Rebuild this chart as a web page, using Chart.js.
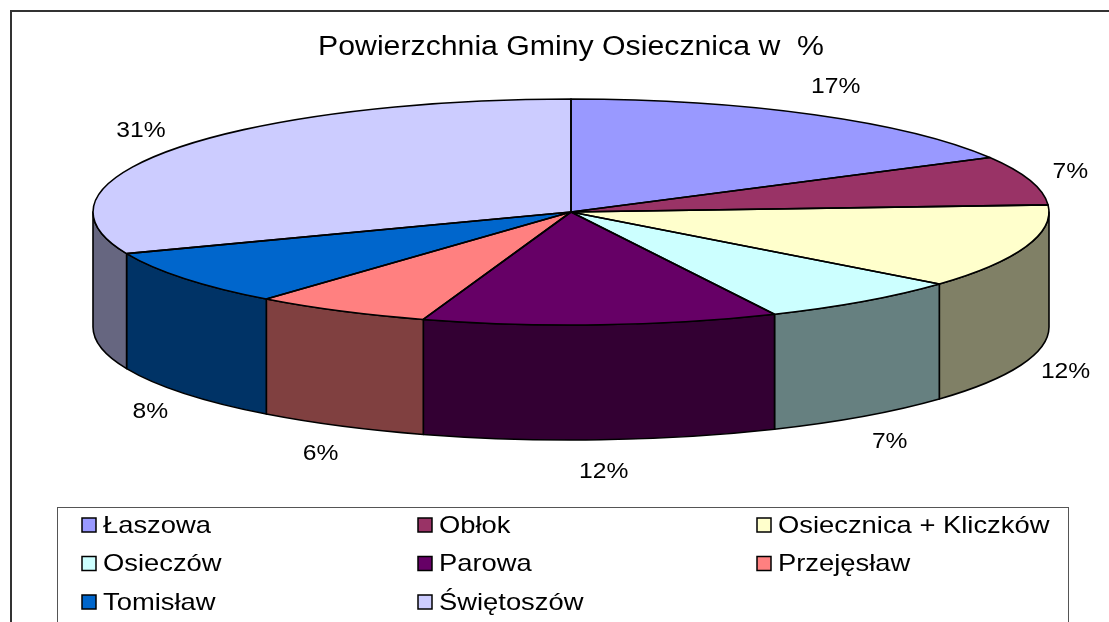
<!DOCTYPE html>
<html>
<head>
<meta charset="utf-8">
<script src="https://cdn.jsdelivr.net/npm/chart.js@4.4.1/dist/chart.umd.min.js"></script>
<style>
    html, body { margin: 0; padding: 0; background: #fff; }
    canvas { display: block; }
</style>
</head>
<body>
<canvas id="pieChart" width="1109" height="622"></canvas>
<script>
// ---------------------------
// DATA
// ---------------------------
const chartTitle = "Powierzchnia Gminy Osiecznica w  %";
const villages = ["Łaszowa", "Obłok", "Osiecznica + Kliczków", "Osieczów", "Parowa", "Przejęsław", "Tomisław", "Świętoszów"];
const shares = [17, 7, 12, 7, 12, 6, 8, 31];
const topColors = ["#9999FF", "#993366", "#FFFFCC", "#CCFFFF", "#660066", "#FF8080", "#0066CC", "#CCCCFF"];
const sideColors = ["#4C4C80", "#4C1933", "#808066", "#668080", "#330033", "#804040", "#003366", "#666680"];

// ---------------------------
// 3D LOOK (Excel style tilted pie)
// ---------------------------
const TILT = 113 / 478;     // ry / rx
const DEPTH = 115 / 478;    // wall height / rx
const FONT = '"Liberation Sans", Arial, sans-serif';

function geom(chart) {
    const a = chart.chartArea;
    const rx = (a.right - a.left) / 2;
    const ry = rx * TILT;
    return { cx: (a.left + a.right) / 2, cy: a.top + ry, rx: rx, ry: ry, depth: rx * DEPTH };
}

// the old Excel export has wide glyphs, so text is stretched a bit
function stretchedText(ctx, text, x, y, size, sx, align) {
    ctx.save();
    ctx.font = size + "px " + FONT;
    ctx.fillStyle = "#000";
    ctx.textBaseline = "middle";
    ctx.textAlign = align || "center";
    ctx.translate(x, y);
    ctx.scale(sx, 1);
    ctx.fillText(text, 0, 0);
    ctx.restore();
}

const pie3d = {
    id: "pie3d",
    beforeDraw(chart) {
        const ctx = chart.ctx;
        const g = geom(chart);
        ctx.save();
        ctx.fillStyle = "#fff";
        ctx.fillRect(0, 0, chart.width, chart.height);
        ctx.strokeStyle = "#333";
        ctx.lineWidth = 2;
        ctx.strokeRect(11, 11, chart.width + 20, chart.height + 20);
        ctx.restore();
        stretchedText(ctx, chartTitle, g.cx, 48, 27, 1.12);
    },
    beforeDatasetsDraw(chart) {
        const ctx = chart.ctx;
        const g = geom(chart);
        const arcs = chart.getDatasetMeta(0).data;

        // side walls of the front half
        ctx.save();
        ctx.lineWidth = 1.6;
        ctx.strokeStyle = "#000";
        ctx.lineJoin = "round";
        arcs.forEach((arc, i) => {
            const s = Math.max(arc.startAngle, 0);
            const e = Math.min(arc.endAngle, Math.PI);
            if (s >= e) return;
            ctx.beginPath();
            ctx.ellipse(g.cx, g.cy, g.rx, g.ry, 0, s, e);
            ctx.lineTo(g.cx + g.rx * Math.cos(e), g.cy + g.ry * Math.sin(e) + g.depth);
            ctx.ellipse(g.cx, g.cy + g.depth, g.rx, g.ry, 0, e, s, true);
            ctx.closePath();
            ctx.fillStyle = sideColors[i];
            ctx.fill();
            ctx.stroke();
        });
        ctx.restore();

        // squash the round pie from Chart.js into the top ellipse
        const a0 = arcs[0];
        ctx.save();
        ctx.translate(g.cx, g.cy);
        ctx.scale(g.rx / a0.outerRadius, g.ry / a0.outerRadius);
        ctx.translate(-a0.x, -a0.y);
    },
    afterDatasetsDraw(chart) {
        const ctx = chart.ctx;
        ctx.restore();
        const g = geom(chart);
        const arcs = chart.getDatasetMeta(0).data;

        // outlines of the top face
        ctx.save();
        ctx.lineWidth = 1.6;
        ctx.strokeStyle = "#000";
        ctx.lineJoin = "round";
        arcs.forEach(arc => {
            ctx.beginPath();
            ctx.moveTo(g.cx, g.cy);
            ctx.ellipse(g.cx, g.cy, g.rx, g.ry, 0, arc.startAngle, arc.endAngle);
            ctx.closePath();
            ctx.stroke();
        });
        ctx.restore();

        // percent labels
        arcs.forEach((arc, i) => {
            const mid = (arc.startAngle + arc.endAngle) / 2;
            const sn = Math.sin(mid);
            const x = g.cx + (g.rx + 42) * Math.cos(mid);
            const y = g.cy + (g.ry + 32) * sn + (sn > 0 ? g.depth : 0);
            stretchedText(ctx, shares[i] + "%", x, y, 22, 1.12);
        });
    },
    afterDraw(chart) {
        const ctx = chart.ctx;
        // legend box
        ctx.save();
        ctx.strokeStyle = "#555";
        ctx.lineWidth = 1;
        ctx.strokeRect(57.5, 507.5, 1011, 200);
        ctx.restore();

        const colX = [82, 418, 757];
        villages.forEach((name, i) => {
            const x = colX[i % 3];
            const y = 525 + Math.floor(i / 3) * 38.5;
            ctx.save();
            ctx.fillStyle = topColors[i];
            ctx.fillRect(x, y - 7, 14, 14);
            ctx.strokeStyle = "#000";
            ctx.lineWidth = 1.5;
            ctx.strokeRect(x, y - 7, 14, 14);
            ctx.restore();
            stretchedText(ctx, name, x + 21, y + 1, 24, 1.14, "left");
        });
    }
};

new Chart(document.getElementById("pieChart"), {
    type: "pie",
    data: {
        labels: villages,
        datasets: [{
            data: shares,
            backgroundColor: topColors,
            borderWidth: 0,
            clip: false
        }]
    },
    options: {
        responsive: false,
        animation: false,
        events: [],
        layout: { padding: { left: 93, right: 60, top: 99, bottom: 182 } },
        plugins: {
            legend: { display: false },
            title: { display: false },
            tooltip: { enabled: false }
        }
    },
    plugins: [pie3d]
});
</script>
</body>
</html>
